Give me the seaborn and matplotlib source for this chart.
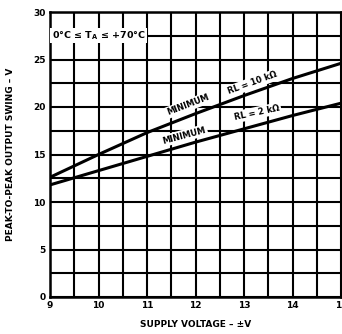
import matplotlib
matplotlib.use("Agg")
import matplotlib.pyplot as plt
import seaborn as sns
import pandas as pd
import numpy as np

supply_v = [9, 10, 11, 12, 13, 14, 15]
swing_10k = [12.6, 15.0, 17.3, 19.3, 21.2, 23.0, 24.6]
swing_2k = [11.8, 13.3, 14.8, 16.3, 17.7, 19.1, 20.4]
x_ticks = [9, 10, 11, 12, 13, 14, 15]
y_ticks = [0, 5, 10, 15, 20, 25, 30]

sns.set_style("white")
plt.rcParams['font.family'] = ['DejaVu Sans']
for k in ["text.color", "axes.labelcolor", "xtick.color", "ytick.color"]:
    plt.rcParams[k] = "black"

df = pd.DataFrame({
    "V": supply_v * 2,
    "swing": swing_10k + swing_2k,
    "load": ["10k"] * len(supply_v) + ["2k"] * len(supply_v),
})

fig = plt.figure(figsize=(3.42, 3.34), dpi=100)
ax = fig.add_axes([50 / 342, 37 / 334, 291 / 342, 285 / 334])

sns.lineplot(data=df, x="V", y="swing", units="load", estimator=None,
             color="black", linewidth=2.2, ax=ax, legend=False, zorder=3)

ax.set_xlim(9, 15)
ax.set_ylim(0, 30)
ax.set_xticks(x_ticks)
ax.set_yticks(y_ticks)
ax.set_xticks(np.arange(9, 15.01, 0.5), minor=True)
ax.set_yticks(np.arange(0, 30.01, 2.5), minor=True)
ax.grid(which="both", color="black", linewidth=1.5)
ax.tick_params(which="both", length=0, labelsize=6.5, pad=3, colors="black")
for lab in ax.get_xticklabels() + ax.get_yticklabels():
    lab.set_fontweight("bold")
for s in ax.spines.values():
    s.set_color("black")
    s.set_linewidth(1.8)

ax.set_xlabel("SUPPLY VOLTAGE – ±V", fontsize=6.5, fontweight="bold", labelpad=7)
ax.set_ylabel("PEAK-TO-PEAK OUTPUT SWING – V", fontsize=6.5, fontweight="bold", labelpad=13)

bb = dict(facecolor="white", edgecolor="none", pad=1.0)
ax.text(10.0, 27.5, r"0°C ≤ T$_\mathregular{A}$ ≤ +70°C", fontsize=6.8, fontweight="bold",
        ha="center", va="center", bbox=bb, zorder=4)
ax.text(11.85, 20.2, "MINIMUM", fontsize=6, fontweight="bold", rotation=21,
        ha="center", va="center", bbox=bb, zorder=4)
ax.text(11.77, 17.0, "MINIMUM", fontsize=6, fontweight="bold", rotation=15,
        ha="center", va="center", bbox=bb, zorder=4)
ax.text(13.17, 22.5, "RL = 10 kΩ", fontsize=6, fontweight="bold", rotation=20,
        ha="center", va="center", bbox=bb, zorder=4)
ax.text(13.27, 19.4, "RL = 2 kΩ", fontsize=6, fontweight="bold", rotation=12,
        ha="center", va="center", bbox=bb, zorder=4)

fig.savefig("out.png", dpi=100)
